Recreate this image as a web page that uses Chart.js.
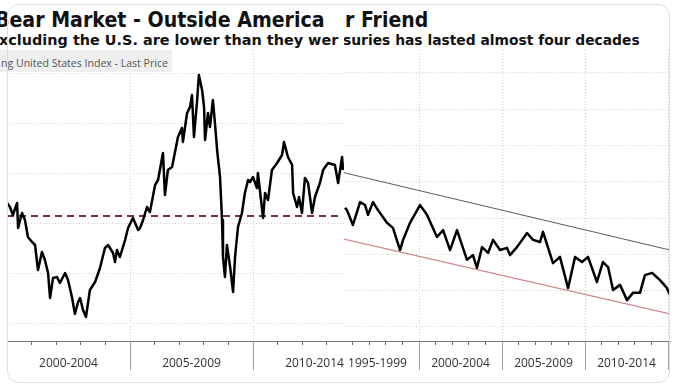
<!DOCTYPE html>
<html><head><meta charset="utf-8">
<script src="https://cdn.jsdelivr.net/npm/chart.js@4.4.1/dist/chart.umd.min.js"></script>
<style>
html,body{margin:0;padding:0;background:#fff;}
#stage{position:relative;width:677px;height:389px;overflow:hidden;background:#fff;}
.card{position:absolute;left:7px;top:4px;width:663px;height:379px;box-sizing:border-box;border:1px solid #dce1e6;border-radius:12px;z-index:5;pointer-events:none;}
.sec{position:absolute;top:0;height:389px;overflow:hidden;}
.t{position:absolute;white-space:nowrap;transform-origin:0 0;line-height:1;display:inline-block;}
.title{font-weight:bold;font-size:20.5px;font-family:"DejaVu Sans";color:#111;top:9.7px;}
.sub{font-weight:bold;font-size:14.5px;font-family:"DejaVu Sans";color:#111;top:33px;}
.leg{position:absolute;left:0;top:50px;width:172px;height:22px;background:#efefef;z-index:2;}
.legt{font-size:11.5px;font-family:"Open Sans";color:#555;top:56.5px;z-index:3;}
.cw{position:absolute;top:50px;height:330px;}
</style></head>
<body>
<div id="stage">
  <div class="sec" style="left:0;width:344px;">
    <span class="t title" data-w="330" style="left:-5px;">Bear Market - Outside America</span>
    <span class="t sub" data-w="339" style="left:-1px;">xcluding the U.S. are lower than they wer</span>
    <div class="leg"></div>
    <span class="t legt" data-w="167" style="left:1px;">ng United States Index - Last Price</span>
    <div class="cw" style="left:7px;width:337px;"><canvas id="cLeft"></canvas></div>
  </div>
  <div class="sec" style="left:344px;width:333px;">
    <span class="t title" data-w="83" style="left:1px;">r Friend</span>
    <span class="t sub" data-w="297" style="left:-1px;">suries has lasted almost four decades</span>
    <div class="cw" style="left:0px;width:333px;"><canvas id="cRight"></canvas></div>
  </div>
  <div class="card"></div>
</div>
<script>
// ---------- DATA ----------
const leftYears = [2000.00,2000.12,2000.24,2000.41,2000.45,2000.61,2000.73,2000.85,2001.02,2001.14,2001.26,2001.42,2001.54,2001.67,2001.75,2001.87,2002.03,2002.15,2002.36,2002.48,2002.64,2002.76,2002.89,2002.97,2003.09,2003.21,2003.37,2003.58,2003.78,2003.98,2004.11,2004.31,2004.39,2004.47,2004.59,2004.80,2004.92,2005.12,2005.33,2005.41,2005.53,2005.69,2005.81,2006.02,2006.14,2006.34,2006.42,2006.54,2006.71,2006.95,2007.11,2007.15,2007.32,2007.44,2007.52,2007.60,2007.72,2007.80,2007.93,2008.01,2008.05,2008.17,2008.25,2008.37,2008.46,2008.54,2008.66,2008.74,2008.78,2008.86,2008.94,2009.07,2009.19,2009.27,2009.39,2009.55,2009.67,2009.80,2009.88,2010.00,2010.16,2010.20,2010.41,2010.49,2010.61,2010.77,2010.98,2011.18,2011.26,2011.42,2011.59,2011.63,2011.79,2011.87,2011.99,2012.11,2012.24,2012.40,2012.52,2012.72,2012.85,2013.05,2013.33,2013.46,2013.62,2013.66];
const leftValues = [0.740,0.732,0.716,0.740,0.690,0.720,0.706,0.672,0.662,0.656,0.606,0.642,0.626,0.600,0.550,0.590,0.592,0.580,0.600,0.586,0.552,0.518,0.542,0.550,0.526,0.512,0.566,0.582,0.610,0.650,0.656,0.640,0.622,0.646,0.632,0.666,0.690,0.710,0.686,0.690,0.706,0.732,0.722,0.776,0.786,0.840,0.756,0.806,0.812,0.872,0.890,0.862,0.920,0.932,0.956,0.872,0.940,0.996,0.966,0.932,0.866,0.920,0.892,0.946,0.896,0.846,0.792,0.706,0.632,0.592,0.656,0.612,0.562,0.632,0.692,0.720,0.760,0.786,0.782,0.792,0.770,0.800,0.710,0.760,0.746,0.806,0.820,0.836,0.862,0.832,0.816,0.760,0.732,0.752,0.720,0.790,0.780,0.720,0.752,0.780,0.806,0.820,0.816,0.780,0.832,0.806];
const leftAverage = 0.714;
const leftGrid = [0.5,0.6,0.7,0.8,0.9,1.0];
const leftMajorTicks = [2000,2005,2010];
const leftTickLabels = ['2000-2004','2005-2009','2010-2014'];

const rightYears = [1995.54,1995.66,1996.02,1996.45,1996.75,1996.93,1997.23,1997.53,1998.07,1998.43,1998.86,1999.04,1999.46,2000.06,2000.48,2001.08,2001.45,2001.87,2002.29,2002.89,2003.25,2003.49,2003.80,2004.16,2004.46,2004.88,2005.30,2005.48,2005.90,2006.51,2006.87,2007.29,2007.47,2008.07,2008.49,2008.98,2009.40,2009.82,2010.18,2010.72,2011.08,2011.39,2011.69,2012.11,2012.53,2012.89,2013.31,2013.61,2014.04,2014.52,2014.94,2015.12];
const rightValues = [0.528,0.522,0.481,0.544,0.536,0.509,0.544,0.522,0.487,0.473,0.412,0.440,0.487,0.536,0.509,0.448,0.467,0.412,0.467,0.385,0.398,0.363,0.420,0.404,0.440,0.412,0.418,0.398,0.420,0.459,0.440,0.434,0.462,0.376,0.393,0.307,0.393,0.379,0.393,0.324,0.379,0.365,0.302,0.316,0.274,0.294,0.294,0.343,0.349,0.329,0.307,0.288];
const channelYears = [1995.48,2015.12];
const channelTop = [0.625,0.412];
const channelBottom = [0.442,0.236];
const rightGrid = [0.2,0.3,0.4,0.5,0.6,0.7,0.8,0.9];
const rightMajorTicks = [1995,2000,2005,2010,2015];
const rightTickLabels = ['1995-1999','2000-2004','2005-2009','2010-2014',''];

// ---------- TEXT FIT ----------
function fitText(){
  document.querySelectorAll('[data-w]').forEach(el=>{
    el.style.transform='none';
    const w = el.offsetWidth;
    if (w>0) el.style.transform = 'scaleX(' + (parseFloat(el.dataset.w)/w) + ')';
  });
}
fitText();
if (document.fonts && document.fonts.ready) document.fonts.ready.then(fitText);

// ---------- CHARTS ----------
function pts(xs, ys){ return xs.map((x,i)=>({x:x, y:ys[i]})); }

function makeChart(id, cfg){
  const offs = 2.5 * cfg.areaWidth / (cfg.xMax - cfg.xMin);
  return new Chart(document.getElementById(id), {
    type:'line',
    data:{datasets:cfg.datasets},
    options:{
      responsive:true, maintainAspectRatio:false, animation:false, devicePixelRatio:1,
      layout:{padding:{left:0,right:cfg.padRight,top:0,bottom:0}},
      plugins:{legend:{display:false},title:{display:false},tooltip:{enabled:false}},
      elements:{point:{radius:0,hoverRadius:0},line:{tension:0,borderJoinStyle:'round'}},
      events:[],
      scales:{
        x:{type:'linear',min:cfg.xMin,max:cfg.xMax,position:'bottom',
          afterBuildTicks:s=>{const t=[];for(let y=Math.ceil(cfg.xMin);y<=cfg.xMax;y++)t.push({value:y});s.ticks=t;},
          ticks:{display:false},
          grid:{drawOnChartArea:false,drawTicks:true,tickLength:4,tickColor:'#6a6a6a',tickWidth:1},
          border:{display:true,color:'#7a7a7a',width:1},
          afterFit:s=>{s.height=0;s.paddingLeft=0;s.paddingRight=0;}
        },
        x2:{type:'linear',min:cfg.xMin,max:cfg.xMax,position:'bottom',
          afterBuildTicks:s=>{s.ticks=cfg.majors.map(v=>({value:v}));},
          ticks:{display:true,autoSkip:false,maxRotation:0,minRotation:0,padding:-14,labelOffset:offs,
            color:'#333',font:{family:'Open Sans',size:12},
            callback:(v,i)=>cfg.labels[i]||''},
          grid:{drawOnChartArea:true,color:'#cfcfcf',lineWidth:1,drawTicks:true,tickLength:29,tickColor:'#a0a0a0',tickWidth:1},
          border:{display:false,dash:[1,2]},
          afterFit:s=>{s.height=39;s.paddingLeft=0;s.paddingRight=0;}
        },
        y:{type:'linear',min:cfg.yMin,max:cfg.yMax,position:'left',
          afterBuildTicks:s=>{s.ticks=cfg.yGrid.map(v=>({value:v}));},
          ticks:{display:false},
          grid:{drawOnChartArea:true,drawTicks:false,color:'#d2d2d2',lineWidth:1},
          border:{display:false,dash:[1,2]},
          afterFit:s=>{s.width=0;s.paddingTop=0;s.paddingBottom=0;}
        }
      }
    }
  });
}

const leftXMin = 2000, leftXMax = 2013.699;
makeChart('cLeft', {
  xMin:leftXMin, xMax:leftXMax, yMin:0.464, yMax:1.046, areaWidth:337, padRight:0,
  yGrid:leftGrid, majors:leftMajorTicks, labels:leftTickLabels,
  datasets:[
    {data:pts(leftYears,leftValues),borderColor:'#000',borderWidth:2.5},
    {data:pts([leftXMin,leftYears[leftYears.length-1]],[leftAverage,leftAverage]),borderColor:'#7b2f3d',borderWidth:2,borderDash:[7,5]}
  ]
});

makeChart('cRight', {
  xMin:1995.482, xMax:2015.12, yMin:0.1614, yMax:0.9631, areaWidth:326, padRight:7,
  yGrid:rightGrid, majors:rightMajorTicks, labels:rightTickLabels,
  datasets:[
    {data:pts(rightYears,rightValues),borderColor:'#000',borderWidth:2.5},
    {data:pts(channelYears,channelTop),borderColor:'#5b5b5b',borderWidth:1},
    {data:pts(channelYears,channelBottom),borderColor:'#d3868c',borderWidth:1.2}
  ]
});
</script>
</body></html>
